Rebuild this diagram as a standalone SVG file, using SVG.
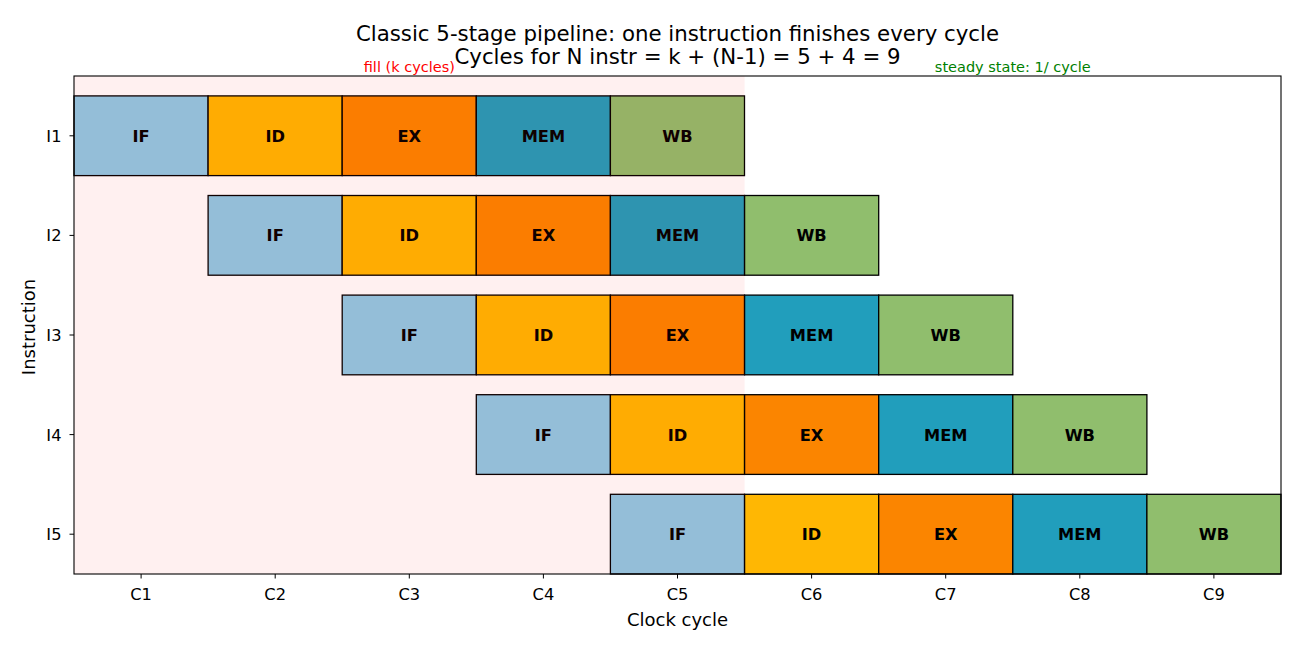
<svg xmlns="http://www.w3.org/2000/svg" width="1300" height="650" viewBox="0 0 1300 650">
<style>
text{font-family:"DejaVu Sans","Liberation Sans",sans-serif;fill:#000}
.cell rect{stroke:#000;stroke-width:1.3}
.cell text{font-size:16.25px;font-weight:bold;text-anchor:middle}
.IF{fill:#8ecae6}.ID{fill:#ffb703}.EX{fill:#fb8500}.MEM{fill:#219ebc}.WB{fill:#90be6d}
.tick{stroke:#000;stroke-width:1}
.tl{font-size:16.25px}
.lab{font-size:18px}
.title{font-size:21.3px;text-anchor:middle}
.ann{font-size:14.5px;text-anchor:middle}
</style>
<rect width="1300" height="650" fill="#fff"/>
<g id="I1">
<g class="cell" id="I1-IF"><rect class="IF" x="74" y="95.9" width="134.1" height="79.7"/><text x="141.1" y="141.7">IF</text></g>
<g class="cell" id="I1-ID"><rect class="ID" x="208.1" y="95.9" width="134.1" height="79.7"/><text x="275.2" y="141.7">ID</text></g>
<g class="cell" id="I1-EX"><rect class="EX" x="342.2" y="95.9" width="134.1" height="79.7"/><text x="409.3" y="141.7">EX</text></g>
<g class="cell" id="I1-MEM"><rect class="MEM" x="476.3" y="95.9" width="134.1" height="79.7"/><text x="543.4" y="141.7">MEM</text></g>
<g class="cell" id="I1-WB"><rect class="WB" x="610.4" y="95.9" width="134.1" height="79.7"/><text x="677.5" y="141.7">WB</text></g>
</g>
<g id="I2">
<g class="cell" id="I2-IF"><rect class="IF" x="208.1" y="195.5" width="134.1" height="79.7"/><text x="275.2" y="241.3">IF</text></g>
<g class="cell" id="I2-ID"><rect class="ID" x="342.2" y="195.5" width="134.1" height="79.7"/><text x="409.3" y="241.3">ID</text></g>
<g class="cell" id="I2-EX"><rect class="EX" x="476.3" y="195.5" width="134.1" height="79.7"/><text x="543.4" y="241.3">EX</text></g>
<g class="cell" id="I2-MEM"><rect class="MEM" x="610.4" y="195.5" width="134.1" height="79.7"/><text x="677.5" y="241.3">MEM</text></g>
<g class="cell" id="I2-WB"><rect class="WB" x="744.6" y="195.5" width="134.1" height="79.7"/><text x="811.6" y="241.3">WB</text></g>
</g>
<g id="I3">
<g class="cell" id="I3-IF"><rect class="IF" x="342.2" y="295.1" width="134.1" height="79.7"/><text x="409.3" y="340.9">IF</text></g>
<g class="cell" id="I3-ID"><rect class="ID" x="476.3" y="295.1" width="134.1" height="79.7"/><text x="543.4" y="340.9">ID</text></g>
<g class="cell" id="I3-EX"><rect class="EX" x="610.4" y="295.1" width="134.1" height="79.7"/><text x="677.5" y="340.9">EX</text></g>
<g class="cell" id="I3-MEM"><rect class="MEM" x="744.6" y="295.1" width="134.1" height="79.7"/><text x="811.6" y="340.9">MEM</text></g>
<g class="cell" id="I3-WB"><rect class="WB" x="878.7" y="295.1" width="134.1" height="79.7"/><text x="945.7" y="340.9">WB</text></g>
</g>
<g id="I4">
<g class="cell" id="I4-IF"><rect class="IF" x="476.3" y="394.7" width="134.1" height="79.7"/><text x="543.4" y="440.5">IF</text></g>
<g class="cell" id="I4-ID"><rect class="ID" x="610.4" y="394.7" width="134.1" height="79.7"/><text x="677.5" y="440.5">ID</text></g>
<g class="cell" id="I4-EX"><rect class="EX" x="744.6" y="394.7" width="134.1" height="79.7"/><text x="811.6" y="440.5">EX</text></g>
<g class="cell" id="I4-MEM"><rect class="MEM" x="878.7" y="394.7" width="134.1" height="79.7"/><text x="945.7" y="440.5">MEM</text></g>
<g class="cell" id="I4-WB"><rect class="WB" x="1012.8" y="394.7" width="134.1" height="79.7"/><text x="1079.8" y="440.5">WB</text></g>
</g>
<g id="I5">
<g class="cell" id="I5-IF"><rect class="IF" x="610.4" y="494.3" width="134.1" height="79.7"/><text x="677.5" y="540.1">IF</text></g>
<g class="cell" id="I5-ID"><rect class="ID" x="744.6" y="494.3" width="134.1" height="79.7"/><text x="811.6" y="540.1">ID</text></g>
<g class="cell" id="I5-EX"><rect class="EX" x="878.7" y="494.3" width="134.1" height="79.7"/><text x="945.7" y="540.1">EX</text></g>
<g class="cell" id="I5-MEM"><rect class="MEM" x="1012.8" y="494.3" width="134.1" height="79.7"/><text x="1079.8" y="540.1">MEM</text></g>
<g class="cell" id="I5-WB"><rect class="WB" x="1146.9" y="494.3" width="134.1" height="79.7"/><text x="1213.9" y="540.1">WB</text></g>
</g>
<rect id="fill-region" x="74" y="76" width="670.6" height="498" fill="#ff0000" fill-opacity="0.06"/>
<rect x="74" y="76" width="1207" height="498" fill="none" stroke="#000" stroke-width="1.1"/>
<g id="yaxis">
<path class="tick" d="M69.5 135.8H74M69.5 235.4H74M69.5 335H74M69.5 434.6H74M69.5 534.2H74"/>
<g class="tl" text-anchor="end">
<text x="61.5" y="141.7">I1</text><text x="61.5" y="241.3">I2</text><text x="61.5" y="340.9">I3</text><text x="61.5" y="440.5">I4</text><text x="61.5" y="540.1">I5</text>
</g>
<text class="lab" text-anchor="middle" transform="translate(34.5 327) rotate(-90)">Instruction</text>
</g>
<g id="xaxis">
<path class="tick" d="M141.1 574V578.5M275.2 574V578.5M409.3 574V578.5M543.4 574V578.5M677.5 574V578.5M811.6 574V578.5M945.7 574V578.5M1079.8 574V578.5M1213.9 574V578.5"/>
<g class="tl" text-anchor="middle">
<text x="141.1" y="600">C1</text><text x="275.2" y="600">C2</text><text x="409.3" y="600">C3</text><text x="543.4" y="600">C4</text><text x="677.5" y="600">C5</text><text x="811.6" y="600">C6</text><text x="945.7" y="600">C7</text><text x="1079.8" y="600">C8</text><text x="1213.9" y="600">C9</text>
</g>
<text class="lab" text-anchor="middle" x="677.5" y="625.5">Clock cycle</text>
</g>
<g id="titles">
<text class="title" x="677.5" y="41">Classic 5-stage pipeline: one instruction finishes every cycle</text>
<text class="title" x="677.5" y="63.5">Cycles for N instr = k + (N-1) = 5 + 4 = 9</text>
</g>
<text class="ann" x="409.3" y="72" style="fill:#ff0000">fill (k cycles)</text>
<text class="ann" x="1012.8" y="72" style="fill:#008000">steady state: 1/ cycle</text>
</svg>
